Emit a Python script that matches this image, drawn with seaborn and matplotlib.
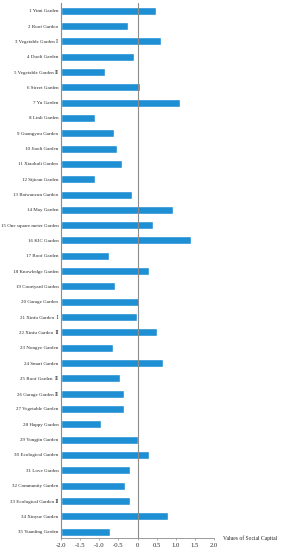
import matplotlib
matplotlib.use('Agg')
import matplotlib.pyplot as plt
import seaborn as sns
import pandas as pd

gardens = [
    "1 Yimi Garden", "2 Roof Garden", "3 Vegetable Garden Ⅰ", "4 Duoli Garden",
    "5 Vegetable Garden Ⅱ", "6 Street Garden", "7 Yu Garden", "8 Linli Garden",
    "9 Guangyou Garden", "10 Jiaoli Garden", "11 Xiaohuli Garden", "12 Sijicun Garden",
    "13 Baiwancun Garden", "14 May Garden", "15 One square meter Garden", "16 KIC Garden",
    "17 Roof Garden", "18 Knowledge Garden", "19 Courtyard Garden", "20 Garage Garden",
    "21 Xinfu Garden  Ⅰ", "22 Xinfu Garden  Ⅱ", "23 Nongye Garden", "24 Smart Garden",
    "25 Roof Garden  Ⅱ", "26 Garage Garden Ⅱ", "27 Vegetable Garden", "28 Happy Garden",
    "29 Yongjin Garden", "30 Ecological Garden", "31 Love Garden", "32 Community Garden",
    "33 Ecological Garden Ⅱ", "34 Xinyue Garden", "35 Yuanling Garden",
]
social_capital = [
    0.47, -0.24, 0.61, -0.10, -0.85, 0.05, 1.10, -1.12,
    -0.61, -0.54, -0.41, -1.11, -0.14, 0.92, 0.41, 1.39,
    -0.76, 0.31, -0.58, 0.04, -0.01, 0.50, -0.64, 0.67,
    -0.45, -0.35, -0.35, -0.95, 0.00, 0.29, -0.20, -0.33,
    -0.20, 0.80, -0.71,
]
xticks = [-2.0, -1.5, -1.0, -0.5, 0, 0.5, 1.0, 1.5, 2.0]

df = pd.DataFrame({'garden': gardens, 'value': social_capital})

sns.set_style('white')
plt.rcParams['font.family'] = ['Liberation Serif', 'DejaVu Serif']

fig = plt.figure(figsize=(2.84, 5.5), dpi=100)
ax = fig.add_axes([0.215, 0.021, 0.539, 0.9735])

sns.barplot(data=df, x='value', y='garden', orient='h', color='#1E8FD3',
            saturation=1, width=0.52, ax=ax)

# bars in the original grow from the left edge (-2)
for p in ax.patches:
    w = p.get_width()
    p.set_x(-2)
    p.set_width(w + 2)

ax.set_xlim(-2, 2)
ax.set_ylim(34.45, -0.5)
ax.axvline(0, color='#8c8c8c', lw=0.8)

for s in ['top', 'right']:
    ax.spines[s].set_visible(False)
ax.spines['left'].set_color('#8c8c8c')
ax.spines['left'].set_linewidth(0.8)
ax.spines['bottom'].set_color('#8c8c8c')
ax.spines['bottom'].set_linewidth(0.6)

ax.set_xticks(xticks)
ax.set_xticklabels(['-2.0', '-1.5', '-1.0', '-0.5', '0', '0.5', '1.0', '1.5', '2.0'])
ax.tick_params(axis='x', labelsize=4.8, length=1.5, width=0.5, color='#8c8c8c', pad=1.5,
               bottom=True)
ax.tick_params(axis='y', labelsize=3.6, length=0, pad=2)
ax.set_xlabel('')
ax.set_ylabel('')

ax.text(1.06, 0.0, 'Values of Social Capital', transform=ax.transAxes,
        fontsize=4.1, va='center', ha='left', clip_on=False)

fig.savefig('out.png', dpi=100)
